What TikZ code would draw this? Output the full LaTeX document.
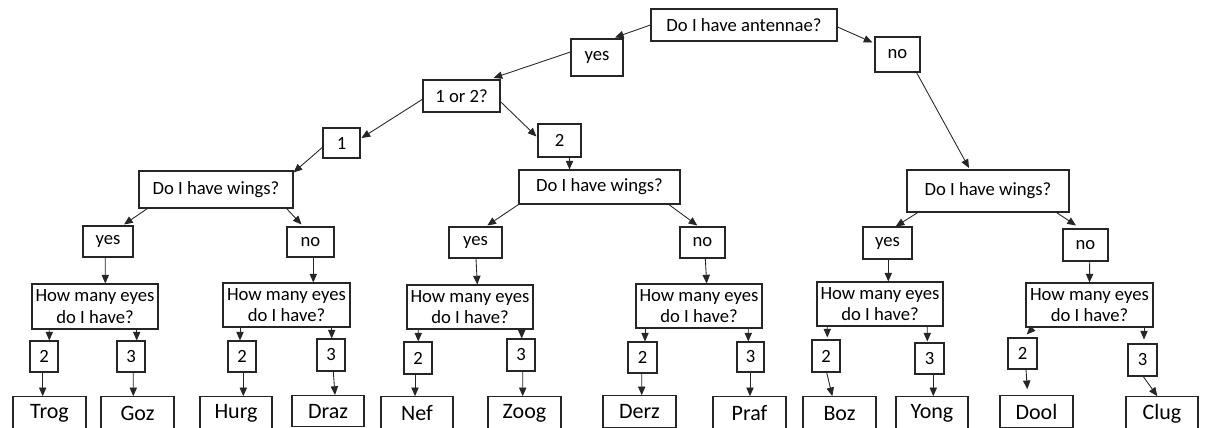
\documentclass[tikz,border=0pt]{standalone}
\usepackage{fontspec}
\setmainfont{Carlito}
\usetikzlibrary{arrows.meta,calc}
\newcommand{\mkbox}[7][]{%
  \pgfmathsetmacro{\bxcx}{(#3+#5)/2}%
  \pgfmathsetmacro{\bxcy}{(#4+#6)/2}%
  \pgfmathsetmacro{\bxw}{(#5-#3)*0.75}%
  \pgfmathsetmacro{\bxh}{(#6-#4)*0.75}%
  \node[box,#1,minimum width=\bxw pt,minimum height=\bxh pt] (#2) at (\bxcx,\bxcy) {#7};}
\begin{document}
\begin{tikzpicture}[x=0.75pt,y=-0.75pt,
  box/.style={draw=black!85,line width=0.8pt,inner sep=0pt,fill=white,align=center,
    font=\fontsize{14}{16}\selectfont},
  leaf/.style={font=\fontsize{16.5}{19}\selectfont},
  arr/.style={draw=black!85,line width=0.65pt,-{Triangle[length=6.5pt,width=5.5pt]}}]
\useasboundingbox (0,0) rectangle (1208,428);
\clip (0,0) rectangle (1208,428);
\fill[white] (0,0) rectangle (1208,428);
% top levels
\mkbox{ant}{651}{9}{837}{41}{Do I have antennae?}
\mkbox{yes0}{571}{39}{623}{76}{yes}
\mkbox{no0}{875}{37}{920}{72}{no}
\mkbox{q12}{423}{80}{500}{112}{1 or 2?}
\mkbox{one}{323}{128}{360}{158}{1}
\mkbox{two}{538}{124}{581}{157}{2}
\mkbox{wL}{139}{171}{293}{208}{Do I have wings?}
\mkbox{wM}{519}{170}{680}{204}{Do I have wings?}
\mkbox{wR}{907}{170}{1069}{212}{Do I have wings?}
% yes / no
\mkbox{yesL}{83}{226}{133}{257}{yes}
\mkbox{noL}{287}{227}{334}{257}{no}
\mkbox{yesM}{449}{227}{502}{258}{yes}
\mkbox{noM}{680}{227}{725}{258}{no}
\mkbox{yesR}{863}{227}{912}{259}{yes}
\mkbox{noR}{1063}{229}{1108}{261}{no}
% eyes
\mkbox{eA}{32}{284}{158}{329}{How many eyes\\do I have?}
\mkbox{eB}{223}{283}{350}{327}{How many eyes\\do I have?}
\mkbox{eC}{407}{285}{533}{329}{How many eyes\\do I have?}
\mkbox{eD}{636}{284}{762}{328}{How many eyes\\do I have?}
\mkbox{eE}{817}{282}{943}{326}{How many eyes\\do I have?}
\mkbox{eF}{1026}{283}{1153}{327}{How many eyes\\do I have?}
% numbers
\mkbox{A2}{30}{341}{58}{372}{2}
\mkbox{A3}{117}{341}{145}{372}{3}
\mkbox{B2}{228}{341}{256}{372}{2}
\mkbox{B3}{317}{339}{345}{371}{3}
\mkbox{C2}{404}{342}{432}{374}{2}
\mkbox{C3}{507}{339}{535}{371}{3}
\mkbox{D2}{628}{342}{657}{373}{2}
\mkbox{D3}{737}{342}{764}{372}{3}
\mkbox{E2}{812}{340}{840}{372}{2}
\mkbox{E3}{915}{343}{944}{374}{3}
\mkbox{F2}{1008}{338}{1037}{369}{2}
\mkbox{F3}{1128}{344}{1157}{376}{3}
% leaves
\mkbox[leaf]{Trog}{13}{396.7}{86}{430}{Trog}
\mkbox[leaf]{Goz}{101}{396.7}{174}{430}{Goz}
\mkbox[leaf]{Hurg}{200}{396.7}{272}{430}{Hurg}
\mkbox[leaf]{Draz}{292}{395.5}{364}{426.7}{Draz}
\mkbox[leaf]{Nef}{381}{396.7}{453}{430}{Nef}
\mkbox[leaf]{Zoog}{488}{396.7}{561}{430}{Zoog}
\mkbox[leaf]{Derz}{603}{395.7}{676}{427.3}{Derz}
\mkbox[leaf]{Praf}{713}{396.7}{786}{430}{Praf}
\mkbox[leaf]{Boz}{803}{396.7}{876}{430}{Boz}
\mkbox[leaf]{Yong}{896}{396.7}{968}{430}{Yong}
\mkbox[leaf]{Dool}{1000}{395.7}{1073}{427.3}{Dool}
\mkbox[leaf]{Clug}{1126}{396.7}{1198}{430}{Clug}
% connectors, top part
\draw[arr] (ant.west) -- ($(yes0.north)+(18,-1)$);
\draw[arr] ($(ant.east)+(0,2)$) -- ($(no0.north west)+(-2,6)$);
\draw[arr] ($(yes0.west)+(0,-5.5)$) -- ($(q12.north east)+(-7,-1.5)$);
\draw[arr] ($(no0.south east)+(-4,0)$) -- ($(wR.north)+(-19,-1.5)$);
\draw[arr] ($(q12.west)+(0,3.3)$) -- ($(one.east)+(1,-5)$);
\draw[arr] ($(q12.east)+(0,5.7)$) -- ($(two.west)+(-1,-4)$);
\draw[arr] ($(one.west)+(0,4.3)$) -- ($(wL.north east)+(0,2)$);
\draw[arr] ($(two.south)+(10,0)$) -- ($(wM.north)+(-30,0)$);
% wings to yes/no
\draw[arr] ($(wL.south west)+(9,0)$) -- ($(yesL.north)+(16,-1)$);
\draw[arr] ($(wL.south east)+(-7,0)$) -- ($(noL.north)+(-9,-2)$);
\draw[arr] (wM.south west) -- ($(yesM.north)+(11.8,-1)$);
\draw[arr] ($(wM.south east)+(-11.7,0)$) -- ($(noM.north)+(-5.2,-1)$);
\draw[arr] ($(wR.south west)+(11.3,0)$) -- ($(yesR.north)+(8.2,0)$);
\draw[arr] ($(wR.south east)+(-13,0)$) -- ($(noR.north)+(-9.5,-3)$);
% yes/no to eyes
\draw[arr] ($(yesL.south)+(-2.7,0)$) -- ($(eA.north)+(10.3,0)$);
\draw[arr] ($(noL.south)+(2.8,0)$) -- ($(eB.north)+(26.8,0)$);
\draw[arr] ($(yesM.south)+(0.5,0)$) -- ($(eC.north)+(7.3,0)$);
\draw[arr] ($(noM.south)+(2.8,0)$) -- ($(eD.north)+(7.7,0)$);
\draw[arr] ($(yesR.south)+(0.8,0)$) -- ($(eE.north)+(8.3,0)$);
\draw[arr] ($(noR.south)+(4.2,0)$) -- (eF.north);
% eyes to numbers
\draw[arr] ($(eA.south)+(-45.7,0)$) -- ($(A2.north)+(5.3,0)$);
\draw[arr] ($(eA.south)+(41.7,0)$) -- ($(A3.north)+(5.7,0)$);
\draw[arr] ($(eB.south)+(-46.5,0)$) -- ($(B2.north)+(-2,0)$);
\draw[arr] ($(eB.south)+(45.2,0)$) -- ($(B3.north)+(0.7,0)$);
\draw[arr] ($(eC.south)+(-51.7,0)$) -- ($(C2.north)+(0.3,0)$);
\draw[arr] ($(eC.south)+(51.7,0)$) -- ($(C3.north)+(0.7,0)$);
\draw[arr] ($(eD.south)+(-54,0)$) -- ($(D2.north)+(2.5,0)$);
\draw[arr] ($(eD.south)+(49.3,0)$) -- ($(D3.north)+(-2.2,0)$);
\draw[arr] ($(eE.south)+(-52.7,0)$) -- ($(E2.north)+(1.3,-2)$);
\draw[arr] ($(eE.south)+(47.3,0)$) -- ($(E3.north)+(-2.2,-1)$);
\draw[arr] ($(eF.south)+(-56.2,0)$) -- ($(F2.north)+(4.2,-3)$);
\draw[arr] ($(eF.south)+(54.5,0)$) -- ($(F3.north)+(1.5,-4)$);
% numbers to leaves
\draw[arr] ($(A2.south)+(-1.3,0)$) -- ($(Trog.north)+(-6.8,0)$);
\draw[arr] ($(A3.south)+(2.3,0)$) -- ($(Goz.north)+(-4.2,0)$);
\draw[arr] ($(B2.south)+(1.3,0)$) -- ($(Hurg.north)+(7.3,0)$);
\draw[arr] ($(B3.south)+(2.3,0)$) -- ($(Draz.north)+(7,0)$);
\draw[arr] ($(C2.south)+(-3,0)$) -- ($(Nef.north)+(-2,0)$);
\draw[arr] ($(C3.south)+(1.7,0)$) -- ($(Zoog.north)+(-1.8,0)$);
\draw[arr] ($(D2.south)+(-0.8,0)$) -- ($(Derz.north)+(2.2,0)$);
\draw[arr] ($(D3.south)+(-0.5,0)$) -- ($(Praf.north)+(0.5,0)$);
\draw[arr] ($(E2.south)+(0.7,0)$) -- ($(Boz.north)+(-7.2,0)$);
\draw[arr] ($(E3.south)+(3.8,0)$) -- ($(Yong.north)+(1.3,0)$);
\draw[arr] ($(F2.south)+(3.5,0)$) -- ($(Dool.north)+(-9.2,-6)$);
\draw[arr] ($(F3.south)+(0.8,0)$) -- ($(Clug.north)+(-4.7,0)$);
\end{tikzpicture}
\end{document}
